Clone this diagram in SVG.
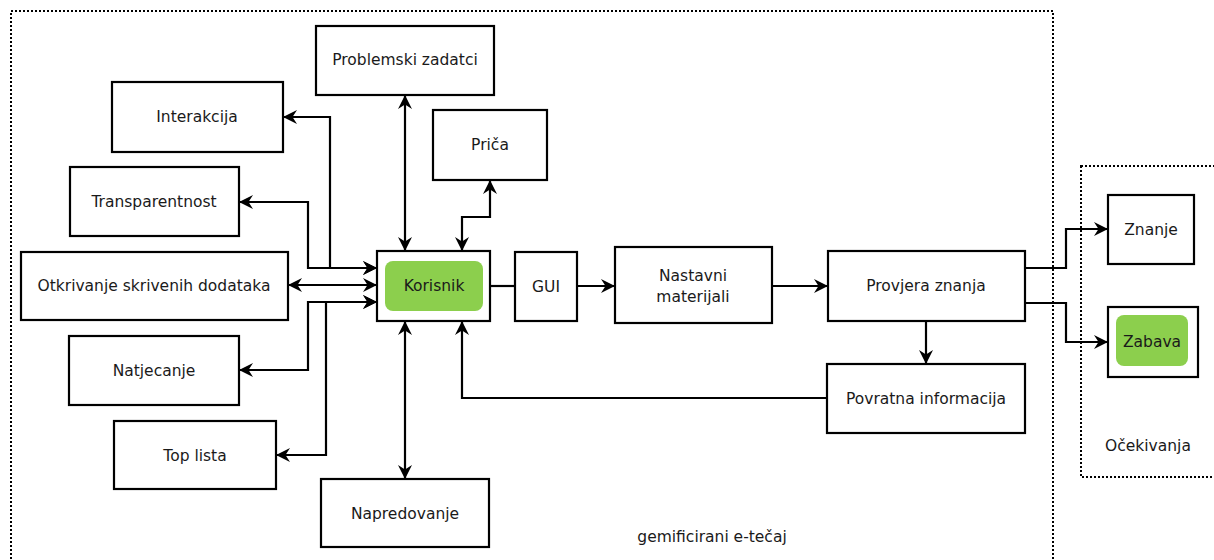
<svg xmlns="http://www.w3.org/2000/svg" width="1214" height="560" viewBox="0 0 1214 560">
<defs>
<marker id="arr" viewBox="0 0 14 14" refX="14" refY="7" markerWidth="14" markerHeight="14" markerUnits="userSpaceOnUse" orient="auto-start-reverse">
<path d="M0,0 L14,7 L0,14 L4.5,7 z" fill="#000"/>
</marker>
<style>
.box{fill:#fff;stroke:#000;stroke-width:2.2}
.green{fill:#8CCF4D;stroke:none}
.t{font-family:"DejaVu Sans",sans-serif;font-size:15.5px;fill:#1a1a1a;text-anchor:middle;dominant-baseline:central}
.dot{fill:none;stroke:#000;stroke-width:2;stroke-dasharray:2 2}
.c{fill:none;stroke:#000;stroke-width:2.2}
.e{marker-end:url(#arr)}
.b{marker-start:url(#arr);marker-end:url(#arr)}
</style>
</defs>
<rect fill="#fff" x="0" y="0" width="1214" height="560"/>
<g id="containers">
<rect class="dot" x="11" y="11" width="1042" height="570"/>
<rect class="dot" x="1081" y="166" width="160" height="311"/>
<text class="t" x="712" y="537">gemificirani e-tečaj</text>
<text class="t" x="1148" y="446">Očekivanja</text>
</g>
<g id="connectors">
<path class="c b" d="M377,268 H330 V117 H283"/>
<path class="c b" d="M377,268 H308 V202 H239"/>
<path class="c b" d="M377,285 H288"/>
<path class="c b" d="M377,302 H308 V370 H239"/>
<path class="c b" d="M377,302 H326 V455 H276"/>
<path class="c b" d="M405,251 V95"/>
<path class="c b" d="M462,251 V217 H490 V180"/>
<path class="c b" d="M405,321 V479"/>
<path class="c" d="M490,286 H515"/>
<path class="c e" d="M577,286 H615"/>
<path class="c e" d="M772,286 H828"/>
<path class="c e" d="M926,321 V364"/>
<path class="c e" d="M827,398 H462 V321"/>
<path class="c e" d="M1025,268 H1066 V229 H1108"/>
<path class="c e" d="M1025,303 H1066 V342 H1108"/>
</g>
<g id="problemski"><rect class="box" x="316" y="26" width="178" height="69"/><text class="t" x="405" y="60">Problemski zadatci</text></g>
<g id="interakcija"><rect class="box" x="112" y="82" width="171" height="70"/><text class="t" x="197" y="117">Interakcija</text></g>
<g id="transparentnost"><rect class="box" x="70" y="167" width="169" height="69"/><text class="t" x="154" y="202">Transparentnost</text></g>
<g id="otkrivanje"><rect class="box" x="21" y="252" width="267" height="68"/><text class="t" x="154" y="286">Otkrivanje skrivenih dodataka</text></g>
<g id="natjecanje"><rect class="box" x="69" y="336" width="170" height="69"/><text class="t" x="154" y="371">Natjecanje</text></g>
<g id="toplista"><rect class="box" x="114" y="421" width="162" height="68"/><text class="t" x="195" y="456">Top lista</text></g>
<g id="napredovanje"><rect class="box" x="321" y="479" width="168" height="68"/><text class="t" x="405" y="514">Napredovanje</text></g>
<g id="prica"><rect class="box" x="433" y="110" width="114" height="70"/><text class="t" x="490" y="145">Priča</text></g>
<g id="korisnik"><rect class="box" x="377" y="251" width="113" height="70"/><rect class="green" x="385" y="261" width="98" height="50" rx="8"/><text class="t" x="434" y="286">Korisnik</text></g>
<g id="gui"><rect class="box" x="515" y="252" width="62" height="69"/><text class="t" x="546" y="287">GUI</text></g>
<g id="nastavni"><rect class="box" x="615" y="247" width="157" height="76"/><text class="t" x="693" y="276">Nastavni</text><text class="t" x="693" y="297">materijali</text></g>
<g id="provjera"><rect class="box" x="828" y="251" width="197" height="70"/><text class="t" x="926" y="286">Provjera znanja</text></g>
<g id="povratna"><rect class="box" x="827" y="364" width="198" height="69"/><text class="t" x="926" y="399">Povratna informacija</text></g>
<g id="znanje"><rect class="box" x="1108" y="195" width="86" height="69"/><text class="t" x="1151" y="230">Znanje</text></g>
<g id="zabava"><rect class="box" x="1108" y="307" width="90" height="70"/><rect class="green" x="1116" y="315" width="72" height="51" rx="8"/><text class="t" x="1152" y="342">Zabava</text></g>
</svg>
